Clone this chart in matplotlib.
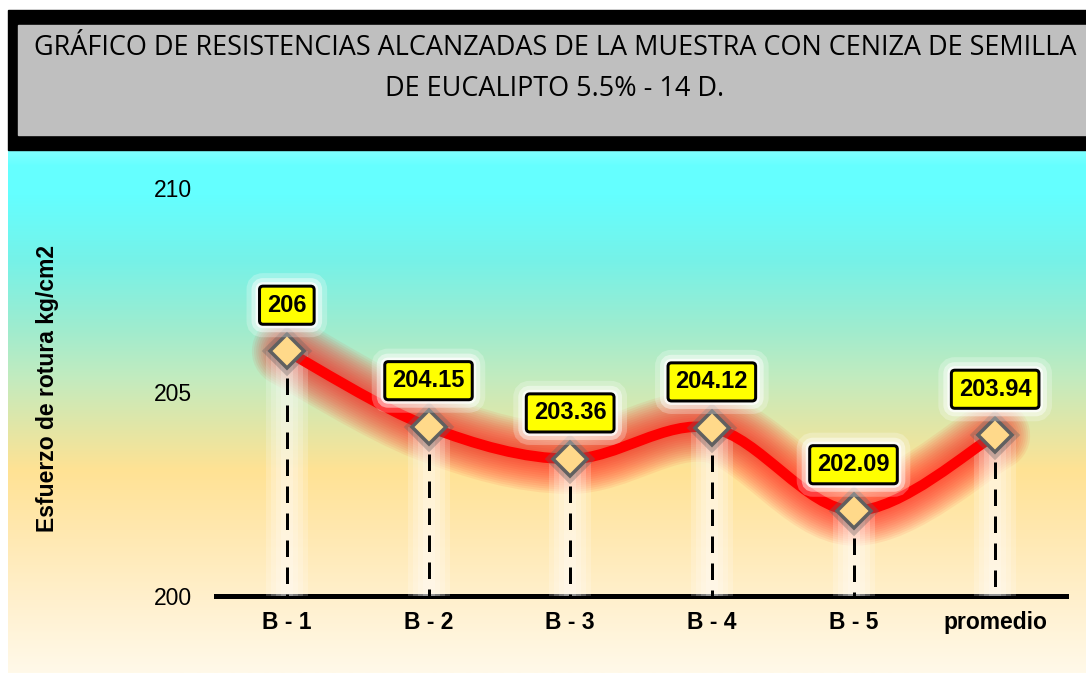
import numpy as np
import matplotlib
matplotlib.use("Agg")
import matplotlib.pyplot as plt
from matplotlib.path import Path
from matplotlib.patches import PathPatch, Rectangle
from matplotlib import font_manager

# ---------------- data ----------------
categories = ["B - 1", "B - 2", "B - 3", "B - 4", "B - 5", "promedio"]
values = [206, 204.15, 203.36, 204.12, 202.09, 203.94]
value_labels = ["206", "204.15", "203.36", "204.12", "202.09", "203.94"]
yticks = [200, 205, 210]
ytick_labels = ["200", "205", "210"]
title_lines = ["GRÁFICO DE RESISTENCIAS ALCANZADAS DE LA MUESTRA CON CENIZA DE SEMILLA",
               "DE EUCALIPTO 5.5% - 14 D."]
ylabel = "Esfuerzo de rotura kg/cm2"

plt.rcParams["font.family"] = ["Liberation Sans", "DejaVu Sans"]

W, H = 1086, 673
PX = 72 / 100.0  # points per pixel
fig = plt.figure(figsize=(W / 100, H / 100), dpi=100)

# ---------------- background / title box ----------------
bg = fig.add_axes([0, 0, 1, 1])
bg.axis("off")
stops = [(150, (128, 255, 255)), (165, (102, 255, 255)), (195, (100, 255, 255)),
         (260, (118, 242, 232)), (330, (160, 236, 206)), (380, (196, 235, 190)),
         (430, (228, 230, 165)), (470, (255, 226, 148)), (530, (255, 232, 175)),
         (600, (255, 240, 205)), (673, (255, 249, 233))]
ys = np.arange(150, H + 1)
cols = np.array([np.interp(ys, [s[0] for s in stops], [s[1][k] for s in stops])
                 for k in range(3)]).T / 255.0
bg.imshow(cols[:, None, :], extent=(8, W, H, 150), aspect="auto", interpolation="bilinear")
bg.add_patch(Rectangle((8, 10), W - 8, 140, color="black"))
bg.add_patch(Rectangle((18, 25), W - 18, 110, color="#BFBFBF"))
bg.set_xlim(0, W)
bg.set_ylim(H, 0)

names = {f.name for f in font_manager.fontManager.ttflist}
tfam = "Liberation Sans Narrow" if "Liberation Sans Narrow" in names else "Open Sans"
t1 = bg.text(555, 48, title_lines[0], ha="center", va="center", fontsize=20, family=tfam, color="black")
fig.canvas.draw()
w1 = t1.get_window_extent().width
fs = 20 * 1045.0 / w1
t1.set_fontsize(fs)
bg.text(555, 89, title_lines[1], ha="center", va="center", fontsize=fs, family=tfam, color="black")

# ---------------- main axes ----------------
ax = fig.add_axes([216 / W, 77 / H, 850 / W, 408 / H])
ax.set_facecolor("none")
for s in ax.spines.values():
    s.set_visible(False)
ax.set_xlim(-0.5, len(categories) - 0.5)
ax.set_ylim(200, 210)
x = np.arange(len(categories))

ax.axhline(200, color="black", lw=5 * PX, zorder=1.5, clip_on=False)

# smooth curve (Excel-like Catmull-Rom via cubic Bezier)
pts = np.column_stack([x, values]).astype(float)
n = len(pts)
verts = [pts[0]]
codes = [Path.MOVETO]
for i in range(n - 1):
    p0 = pts[max(i - 1, 0)]
    p1 = pts[i]
    p2 = pts[i + 1]
    p3 = pts[min(i + 2, n - 1)]
    verts += [p1 + (p2 - p0) / 6.0, p2 - (p3 - p1) / 6.0, p2]
    codes += [Path.CURVE4] * 3
path = Path(verts, codes)

for w in np.linspace(70, 14, 14):
    ax.add_patch(PathPatch(path, fill=False, edgecolor=(1, 0.05, 0.05, 0.065), lw=w * PX,
                           capstyle="round", joinstyle="round", zorder=2))

# white glow columns behind drop lines
for i, v in enumerate(values):
    for w in (42, 32, 22, 12):
        ax.plot([i, i], [200, v], color="white", lw=w * PX, alpha=0.2,
                solid_capstyle="butt", zorder=2.5)

ax.add_patch(PathPatch(path, fill=False, edgecolor="#FF0000", lw=10.5 * PX,
                       capstyle="round", joinstyle="round", zorder=3))

# dashed drop lines
for i, v in enumerate(values):
    ax.plot([i, i], [v, 200], color="black", lw=3 * PX, dashes=(5.5, 3.5),
            solid_capstyle="butt", dash_capstyle="butt", zorder=4)

# markers
ax.plot(x, values, ls="none", marker="D", ms=29 * PX, mfc="none",
        mec=(0.4, 0.4, 0.4, 0.35), mew=6 * PX, zorder=4.8)
ax.plot(x, values, ls="none", marker="D", ms=24 * PX, mfc="#FFD98A",
        mec="#606060", mew=3.5 * PX, zorder=5)

# data labels
for i, (v, lbl) in enumerate(zip(values, value_labels)):
    for lw, a in ((26, 0.25), (16, 0.45), (8, 0.75)):
        ax.annotate(lbl, (i, v), xytext=(0, 46 * PX), textcoords="offset points",
                    ha="center", va="center", fontsize=17, fontweight="bold",
                    color=(0, 0, 0, 0), zorder=5.5,
                    bbox=dict(boxstyle="round,pad=0.32,rounding_size=0.15", fc="white",
                              ec=(1, 1, 1, a), lw=lw * PX))
    ax.annotate(lbl, (i, v), xytext=(0, 46 * PX), textcoords="offset points",
                ha="center", va="center", fontsize=17, fontweight="bold",
                color="black", zorder=6,
                bbox=dict(boxstyle="round,pad=0.32,rounding_size=0.15", fc="#FFFF00",
                          ec="black", lw=3 * PX))

# ticks
ax.set_yticks(yticks)
ax.set_yticklabels(ytick_labels, fontsize=16.5)
ax.tick_params(axis="y", length=0, pad=24 * PX)
ax.set_xticks(x)
ax.set_xticklabels(categories, fontsize=16.5, fontweight="bold")
ax.tick_params(axis="x", length=0, pad=15 * PX)

fig.text(48 / W, 1 - 389 / H, ylabel, rotation=90, fontsize=16.5, fontweight="bold",
         ha="center", va="center")

fig.savefig("out.png", dpi=100)
